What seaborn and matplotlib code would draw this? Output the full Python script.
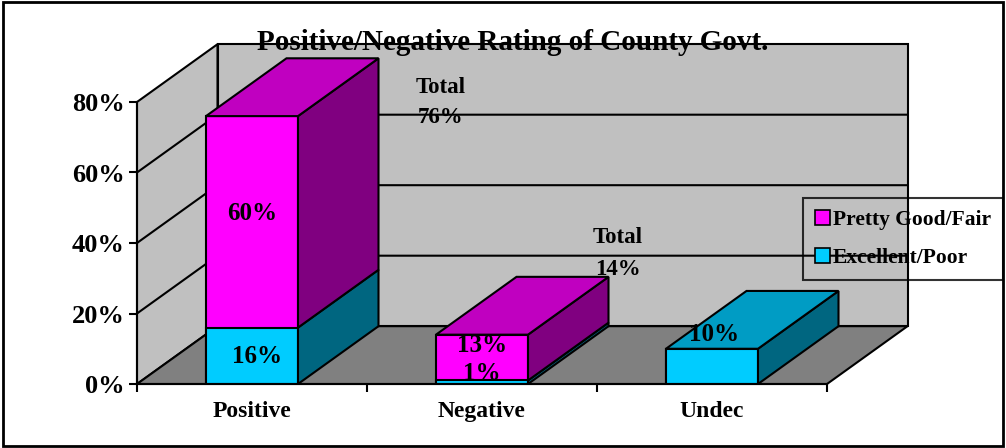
import numpy as np
import pandas as pd
import seaborn as sns
import matplotlib
matplotlib.use('Agg')
import matplotlib.pyplot as plt
from matplotlib.patches import Polygon, Rectangle

# chart data
categories = ['Positive', 'Negative', 'Undec']
excellent_poor = [16, 1, 10]
pretty_good_fair = [60, 13, 0]
y_ticks = [0, 20, 40, 60, 80]
series_names = ['Pretty Good/Fair', 'Excellent/Poor']
title = 'Positive/Negative Rating of County Govt.'

# value labels: (text, category, y in % units)
seg_labels = [('60%', 0, 48.5), ('16%', 0.02, 7.7), ('13%', 1, 11.0),
              ('1%', 1, 3.0), ('10%', 2.01, 14.0)]
total_labels = [('Total', 0.82, 84.0), ('76%', 0.82, 75.5),
                ('Total', 1.59, 41.5), ('14%', 1.59, 32.5)]

sns.set_theme(style='white')
plt.rcParams['font.family'] = ['Liberation Serif', 'DejaVu Serif']
plt.rcParams['font.weight'] = 'bold'
plt.rcParams['text.color'] = 'black'
plt.rcParams['xtick.color'] = 'black'
plt.rcParams['ytick.color'] = 'black'
plt.rcParams['axes.labelcolor'] = 'black'

mag, mag_top, mag_side = '#FF00FF', '#C000C0', '#800080'
cy, cy_top, cy_side = '#00CCFF', '#009CC4', '#006680'
wall_col, floor_col = '#C0C0C0', '#808080'
lw = 1.5

df = pd.DataFrame({'cat': categories, 'exc': excellent_poor, 'pgf': pretty_good_fair})
df['tot'] = df['exc'] + df['pgf']

fig = plt.figure(figsize=(10.06, 4.48), dpi=100)
ax = fig.add_axes([137 / 1006, 64 / 448, 690 / 1006, 282 / 448])
ax.set_facecolor('none')

sns.barplot(data=df, x='cat', y='tot', color=mag, saturation=1, width=0.4,
            edgecolor='black', linewidth=lw, ax=ax, zorder=3)
bars = list(ax.patches)
sns.barplot(data=df, x='cat', y='exc', color=cy, saturation=1, width=0.4,
            edgecolor='black', linewidth=lw, ax=ax, zorder=3)

x0, x1 = -0.5, 2.5
ymax = 80
dx, dy = 0.35, 16.4  # depth of the fake 3d box, in data units
ax.set_xlim(x0, x1)
ax.set_ylim(0, ymax)


def face(pts, color, z):
    ax.add_patch(Polygon(pts, closed=True, facecolor=color, edgecolor='black',
                         lw=lw, clip_on=False, zorder=z, joinstyle='miter'))


# walls and floor
face([(x0 + dx, dy), (x1 + dx, dy), (x1 + dx, ymax + dy), (x0 + dx, ymax + dy)], wall_col, 0.5)
face([(x0, 0), (x0 + dx, dy), (x0 + dx, ymax + dy), (x0, ymax)], wall_col, 0.5)
face([(x0, 0), (x1, 0), (x1 + dx, dy), (x0 + dx, dy)], floor_col, 0.6)
for t in y_ticks[1:-1]:
    ax.plot([x0, x0 + dx, x1 + dx], [t, t + dy, t + dy], color='black', lw=lw,
            clip_on=False, zorder=0.7)

# side and top faces of the bars
for i, b in enumerate(bars):
    x, w = b.get_x(), b.get_width()
    c, m = excellent_poor[i], pretty_good_fair[i]
    segs = [(0, c, cy_side, cy_top), (c, c + m, mag_side, mag_top)]
    segs = [s for s in segs if s[1] > s[0]]
    for y0, y1, side, top in segs:
        face([(x + w, y0), (x + w + dx, y0 + dy), (x + w + dx, y1 + dy), (x + w, y1)], side, 3.2)
    y1, top = segs[-1][1], segs[-1][3]
    face([(x, y1), (x + w, y1), (x + w + dx, y1 + dy), (x + dx, y1 + dy)], top, 3.2)

for txt, xx, yy in seg_labels:
    ax.text(xx, yy, txt, ha='center', va='center', fontsize=18, fontweight='bold', zorder=5)
for txt, xx, yy in total_labels:
    ax.text(xx, yy, txt, ha='center', va='center', fontsize=16.5, fontweight='bold', zorder=5)

# axes styling
for s in ['top', 'right']:
    ax.spines[s].set_visible(False)
for s in ['left', 'bottom']:
    ax.spines[s].set_color('black')
    ax.spines[s].set_linewidth(lw)
    ax.spines[s].set_zorder(4)
ax.set_yticks(y_ticks, [f'{t}%' for t in y_ticks])
ax.set_xticks([0, 1, 2], categories)
ax.set_xticks([-0.5, 0.5, 1.5, 2.5], minor=True)
ax.tick_params(axis='y', left=True, length=6, width=lw, direction='out', labelsize=19, pad=3)
ax.tick_params(axis='x', which='major', bottom=True, length=0, pad=12, labelsize=17)
ax.tick_params(axis='x', which='minor', bottom=True, length=6, width=lw, direction='out')
ax.set_xlabel('')
ax.set_ylabel('')

fig.text(0.51, 0.905, title, ha='center', va='center', fontsize=21, fontweight='bold')

handles = [Rectangle((0, 0), 1, 1, fc=mag, ec='black', lw=1.2),
           Rectangle((0, 0), 1, 1, fc=cy, ec='black', lw=1.2)]
leg = fig.legend(handles, series_names, loc='upper left', bbox_to_anchor=(803 / 1006, 1 - 198 / 448),
                 frameon=True, fancybox=False, edgecolor='black', facecolor='none',
                 handlelength=0.7, handleheight=0.7, handletextpad=0.15, fontsize=15.5,
                 borderaxespad=0, borderpad=0.55, labelspacing=0.85)
leg.get_frame().set_linewidth(lw)

fig.patches.append(Rectangle((0.003, 0.005), 0.994, 0.99, transform=fig.transFigure,
                             fill=False, ec='black', lw=2))

fig.savefig('out.png', dpi=100)
